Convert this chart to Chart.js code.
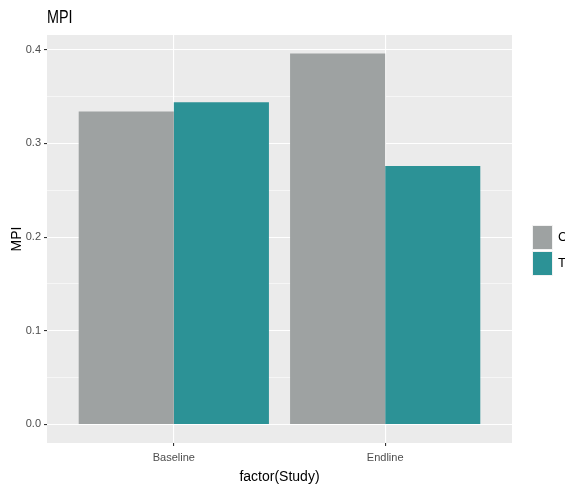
<!DOCTYPE html>
<html>
<head>
<meta charset="utf-8">
<script src="https://cdn.jsdelivr.net/npm/chart.js@4"></script>
<style>
  html, body { margin: 0; padding: 0; background: #fff; }
  #wrap { width: 565px; height: 486px; position: relative; overflow: hidden; }
</style>
</head>
<body>
<div id="wrap"><canvas id="mpiChart" width="565" height="486"></canvas></div>
<script>
// data
const categories = ['Baseline', 'Endline'];
const groups = ['C', 'T'];
const valuesC = [0.334, 0.396];
const valuesT = [0.344, 0.276];
const yTicks = [0.0, 0.1, 0.2, 0.3, 0.4];
const yMinor = [0.05, 0.15, 0.25, 0.35];

const colors = ['#9EA2A2', '#2C9296'];
const FONT = '"Liberation Sans", Arial, sans-serif';

const isMajor = v => yTicks.some(t => Math.abs(t - v) < 1e-9);

// title + legend drawn on the canvas, ggplot style
const extras = {
    id: 'extras',
    afterDraw(chart) {
        const c = chart.ctx;
        const area = chart.chartArea;
        c.save();
        c.fillStyle = '#000';
        c.font = '18px ' + FONT;
        c.textBaseline = 'alphabetic';
        c.textAlign = 'left';
        // the reference title looks a bit narrow, squeeze it
        c.translate(area.left, 23);
        c.scale(0.8, 1);
        c.fillText('MPI', 0, 0);
        c.restore();

        c.save();
        const keyH = 23, keyW = 19, gap = 3;
        let y = 226;
        c.font = '13px ' + FONT;
        c.textBaseline = 'middle';
        groups.forEach((g, i) => {
            c.fillStyle = '#F2F2F2';
            c.fillRect(532, y - 1, keyW + 2, keyH + 2);
            c.fillStyle = colors[i];
            c.fillRect(533, y, keyW, keyH);
            c.fillStyle = '#000';
            c.fillText(g, 558, y + keyH / 2);
            y += keyH + gap;
        });
        c.restore();
    }
};

const ctx = document.getElementById('mpiChart').getContext('2d');
new Chart(ctx, {
    type: 'bar',
    data: {
        datasets: [
            {
                label: groups[0],
                data: valuesC.map((v, i) => ({ x: i + 1, y: v })),
                backgroundColor: colors[0],
                borderWidth: 0
            },
            {
                label: groups[1],
                data: valuesT.map((v, i) => ({ x: i + 1, y: v })),
                backgroundColor: colors[1],
                borderWidth: 0
            }
        ]
    },
    options: {
        responsive: false,
        animation: false,
        layout: { padding: { top: 35, right: 53, left: 0, bottom: 0 } },
        datasets: { bar: { categoryPercentage: 0.9, barPercentage: 1.0 } },
        plugins: {
            legend: { display: false },
            tooltip: { enabled: false }
        },
        scales: {
            x: {
                type: 'linear',
                offset: false,
                min: 0.4,
                max: 2.6,
                afterBuildTicks: s => { s.ticks = categories.map((c, i) => ({ value: i + 1 })); },
                afterFit: s => { s.height = 43; },
                border: { display: false },
                grid: {
                    offset: false,
                    color: '#FFFFFF',
                    lineWidth: 1.1,
                    tickColor: '#333333',
                    tickLength: 3
                },
                ticks: {
                    callback: v => categories[Math.round(v) - 1],
                    color: '#4D4D4D',
                    font: { family: FONT, size: 11 },
                    padding: 5,
                    maxRotation: 0
                },
                title: {
                    display: true,
                    text: 'factor(Study)',
                    color: '#000',
                    font: { family: FONT, size: 14 },
                    padding: { top: 2, bottom: 0 }
                }
            },
            y: {
                min: -0.0198,
                max: 0.4158,
                afterBuildTicks: s => {
                    s.ticks = yTicks.concat(yMinor).sort((a, b) => a - b).map(v => ({ value: v }));
                },
                afterFit: s => { s.width = 47; },
                border: { display: false },
                grid: {
                    color: '#FFFFFF',
                    lineWidth: c => isMajor(c.tick.value) ? 1.1 : 0.55,
                    tickColor: c => isMajor(c.tick.value) ? '#333333' : 'rgba(0,0,0,0)',
                    tickLength: 3
                },
                ticks: {
                    callback: v => isMajor(v) ? v.toFixed(1) : '',
                    color: '#4D4D4D',
                    font: { family: FONT, size: 11 },
                    padding: 3
                },
                title: {
                    display: true,
                    text: 'MPI',
                    color: '#000',
                    font: { family: FONT, size: 14 },
                    padding: { top: 9, bottom: 2 }
                }
            }
        }
    },
    plugins: [{
        id: 'panelBg',
        beforeDraw(chart) {
            const a = chart.chartArea;
            chart.ctx.save();
            chart.ctx.fillStyle = '#EBEBEB';
            chart.ctx.fillRect(a.left, a.top, a.right - a.left, a.bottom - a.top);
            chart.ctx.restore();
        }
    }, extras]
});
</script>
</body>
</html>
